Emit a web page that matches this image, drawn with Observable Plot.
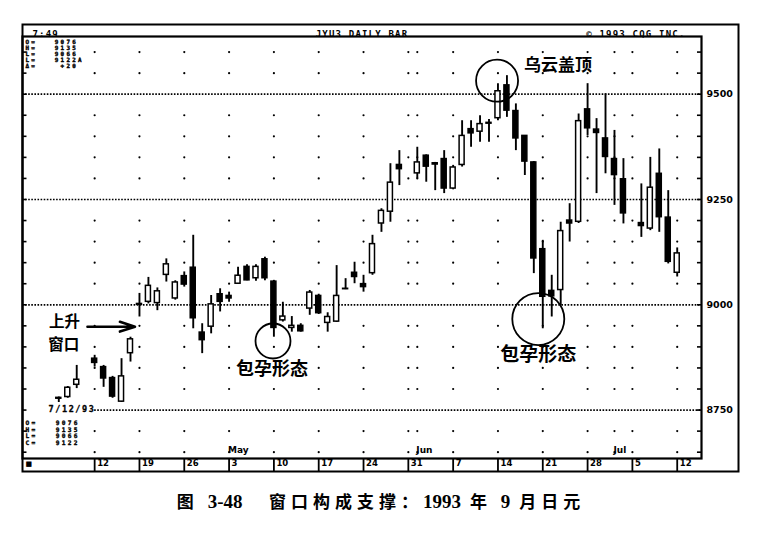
<!DOCTYPE html>
<html><head><meta charset="utf-8">
<script src="https://cdn.jsdelivr.net/npm/d3@7"></script>
<script src="https://cdn.jsdelivr.net/npm/@observablehq/plot@0.6"></script>
<style>
html,body{margin:0;padding:0;background:#fff;}
#chart{width:778px;height:480px;}
#cap{width:778px;margin-top:10px;text-align:center;font-family:"Noto Sans CJK SC";font-weight:700;font-size:17px;line-height:22px;letter-spacing:5px;color:#000;padding-right:16px;box-sizing:border-box;white-space:pre}
#cap .n{font-family:"Liberation Serif";font-size:19px;letter-spacing:0}
</style></head><body>
<div id="chart"></div>
<div id="cap">图 <span class="n">3-48</span>   窗口构成支撑：<span class="n">1993</span> 年 <span class="n">9</span> 月日元</div>
<script>
// ---- daily bars (JYU3, 1993) ----
const dates = ["1993-04-06","1993-04-07","1993-04-08","1993-04-12","1993-04-13","1993-04-14","1993-04-15","1993-04-16",
"1993-04-19","1993-04-20","1993-04-21","1993-04-22","1993-04-23","1993-04-26","1993-04-27","1993-04-28","1993-04-29","1993-04-30",
"1993-05-03","1993-05-04","1993-05-05","1993-05-06","1993-05-07","1993-05-10","1993-05-11","1993-05-12","1993-05-13","1993-05-14",
"1993-05-17","1993-05-18","1993-05-19","1993-05-20","1993-05-21","1993-05-24","1993-05-25","1993-05-26","1993-05-27","1993-05-28",
"1993-06-01","1993-06-02","1993-06-03","1993-06-04","1993-06-07","1993-06-08","1993-06-09","1993-06-10","1993-06-11",
"1993-06-14","1993-06-15","1993-06-16","1993-06-17","1993-06-18","1993-06-21","1993-06-22","1993-06-23","1993-06-24","1993-06-25",
"1993-06-28","1993-06-29","1993-06-30","1993-07-01","1993-07-02","1993-07-06","1993-07-07","1993-07-08","1993-07-09","1993-07-12"];
const opens  = [8779,8781,8810,8872,8852,8826,8770,8885, 9000,9007,9004,9071,9015,9068,9088,8934,8948,9025,
9021,9050,9090,9063,9108,9055,8963,8945,8950,8991, 9021,8957,8960,9037,9076,9049,9075,9193,9221,9332,
9312,9354,9336,9346,9276,9332,9417,9411,9430, 9443,9521,9460,9401,9338,9132,9033,9035,9200,9197,
9464,9416,9395,9346,9298,9194,9181,9311,9207,9076];
const highs  = [8781,8806,8856,8880,8856,8830,8872,8923, 9027,9065,9040,9109,9057,9078,9165,8955,9022,9038,
9030,9089,9095,9095,9113,9058,9006,8972,8955,9034, 9025,8981,9093,9062,9101,9070,9165,9228,9335,9366,
9374,9356,9338,9366,9331,9437,9437,9449,9440, 9525,9544,9477,9402,9340,9153,9070,9196,9240,9453,
9525,9442,9501,9414,9347,9287,9350,9370,9271,9135];
const lows   = [8768,8778,8801,8852,8804,8778,8768,8864, 8971,9002,8986,9054,9011,9042,8943,8884,8931,8983,
9006,9049,9057,9056,9057,8923,8959,8935,8935,8975, 8977,8935,8958,9036,9050,9030,9070,9172,9196,9283,
9299,9291,9271,9264,9273,9327,9374,9386,9386, 9437,9445,9366,9307,9074,8943,8971,8998,9149,9193,
9402,9264,9311,9236,9192,9160,9176,9172,9097,9066];
const closes = [8777,8803,8822,8862,8825,8782,8830,8918, 9002,9045,9032,9096,9053,9048,8968,8916,9001,9007,
9015,9069,9058,9090,9063,8945,8972,8950,8937,9029, 8980,8971,9021,9038,9066,9042,9144,9223,9290,9322,
9338,9328,9333,9276,9326,9401,9407,9429,9432, 9507,9461,9395,9340,9110,9019,9020,9175,9193,9436,
9419,9408,9351,9308,9217,9187,9278,9208,9102,9122];

// ---- axis / calendar labels ----
const weekDates  = ["1993-04-12","1993-04-19","1993-04-26","1993-05-03","1993-05-10","1993-05-17","1993-05-24","1993-05-31",
"1993-06-07","1993-06-14","1993-06-21","1993-06-28","1993-07-05","1993-07-12"];
const weekLabels = ["12","19","26","3","10","17","24","31","7","14","21","28","5","12"];
const monthDates  = ["1993-05-03","1993-06-01","1993-07-01"];
const monthLabels = ["May","Jun","Jul"];
const priceLabels = [8750, 9000, 9250, 9500];
const tickLevels = [8650,8700,8750,8800,8850,8900,8950,9000,9050,9100,9150,9200,9250,9300,9350,9400,9450,9500,9550,9600];

// ---- annotations ----
const noteTexts = ["乌云盖顶", "包孕形态", "包孕形态", "上升", "窗口"];
const noteX     = [55.7, 23.8, 53.5, 0.64, 0.55];
const noteY     = [9567, 8846, 8880, 8958, 8904];
const noteSize  = [17, 18, 19, 15.5, 15.5];
const circleX = [48.9, 23.9, 53.5];
const circleY = [9532, 8914, 8966];
const circleR = [21, 17.5, 26];
const arrowFromX = 3.2, arrowToX = 8.5, arrowY = 8948;

const headerLeft = "7:49", headerMid = "JYU3 DAILY BAR", headerRight = "© 1993 CQG INC.";
const infoTop = "O=   9076\nH=   9135\nL=   9066\nL=   9122A\nΔ=    +20";
const infoDate = "7/12/93";
const infoBottom = "O=   9076\nH=   9135\nL=   9066\nC=   9122";

// trading-day slot (weekday calendar, holidays left blank)
const d0 = Date.parse("1993-04-05T00:00:00Z");
function slot(s) {
  const days = Math.round((Date.parse(s + "T00:00:00Z") - d0) / 864e5);
  return Math.floor(days / 7) * 5 + Math.min(days % 7, 5) - 1;
}

const bars = dates.map((d, i) => ({slot: slot(d), open: opens[i], high: highs[i], low: lows[i], close: closes[i]}));
const weeks = weekDates.map((d, i) => ({slot: slot(d), label: weekLabels[i]}));
const months = monthDates.map((d, i) => ({slot: slot(d), label: monthLabels[i]}));
const gridCols = Array.from(new Set([...weekDates, ...monthDates].map(slot)));
const grid = gridCols.flatMap(x => tickLevels.filter(v => v % 250 !== 0).map(y => ({x, y})));
const notes = noteTexts.map((t, i) => ({text: t, x: noteX[i], y: noteY[i], size: noteSize[i]}));
const circles = circleX.map((x, i) => ({x, y: circleY[i], r: circleR[i]}));

const xDomain = [-4.05, 71.71];
const yDomain = [8635, 9637];
const mono = "DejaVu Sans Mono";
const cjk = "Noto Sans CJK SC";
// the lowest dotted level starts after the date stamp, at the first week column
const ruleStart = d => d === priceLabels[0] ? slot(weekDates[0]) : xDomain[0];

const chart = Plot.plot({
  width: 778, height: 480,
  marginLeft: 22, marginRight: 77, marginTop: 36, marginBottom: 22,
  x: {domain: xDomain, axis: null},
  y: {domain: yDomain, axis: null},
  style: {background: "white", color: "black", overflow: "visible"},
  marks: [
    Plot.dot(grid, {x: "x", y: "y", r: 1.1, fill: "black", stroke: null}),
    Plot.ruleY(priceLabels, {y: d => d, x1: ruleStart, x2: xDomain[1], stroke: "black", strokeWidth: 1.7, strokeDasharray: "1.6,1.5"}),
    Plot.ruleY(tickLevels, {y: d => d, x1: xDomain[1] - 0.45, x2: xDomain[1], stroke: "black", strokeWidth: 1.6}),
    Plot.ruleY(tickLevels, {y: d => d, x1: xDomain[0], x2: xDomain[0] + 0.5, stroke: "black", strokeWidth: 1.6}),
    // candles
    Plot.ruleX(bars, {x: "slot", y1: "low", y2: "high", stroke: "black", strokeWidth: 1.9}),
    Plot.rect(bars, {x1: d => d.slot - 0.28, x2: d => d.slot + 0.28, y1: "open", y2: "close",
      fill: d => d.close >= d.open ? "white" : "black", stroke: "black", strokeWidth: 1.5}),
    // annotations
    ...circles.map(c => Plot.dot([c], {x: "x", y: "y", r: c.r, stroke: "black", strokeWidth: 1.8, fill: "none"})),
    Plot.arrow([{x1: arrowFromX, x2: arrowToX, y: arrowY}], {x1: "x1", x2: "x2", y1: "y", y2: "y",
      stroke: "black", strokeWidth: 2.6, headLength: 13, headAngle: 36, bend: 0}),
    Plot.text(notes, {x: "x", y: "y", text: "text", fontSize: d => d.size, fontFamily: cjk, fontWeight: 700, fill: "black"}),
    // frames
    Plot.frame({stroke: "black", strokeWidth: 2.2}),
    Plot.frame({stroke: "black", strokeWidth: 2, insetTop: -12, insetRight: -37, insetBottom: -13}),
    // right price labels
    Plot.text(priceLabels, {y: d => d, text: d => String(d), frameAnchor: "right", textAnchor: "start", dx: 5,
      fontFamily: "DejaVu Sans", fontWeight: 700, fontSize: 9.5}),
    // date bar
    Plot.ruleX(weeks, {x: "slot", insetTop: 422, insetBottom: -13, stroke: "black", strokeWidth: 1.8}),
    Plot.text(weeks, {x: "slot", text: "label", frameAnchor: "bottom", dy: 7, dx: 2.5, textAnchor: "start",
      fontFamily: "DejaVu Sans", fontWeight: 700, fontSize: 8.5}),
    Plot.text(["■"], {frameAnchor: "bottom-left", dy: 7, dx: 3, textAnchor: "start", fontSize: 7, fontFamily: "DejaVu Sans"}),
    Plot.text(months, {x: "slot", text: "label", frameAnchor: "bottom", dy: -6, dx: -1, textAnchor: "start",
      fontFamily: "DejaVu Sans", fontWeight: 700, fontSize: 9, fill: "black"}),
    // header
    Plot.text([headerLeft], {frameAnchor: "top-left", dx: 10, dy: -6, textAnchor: "start", fontFamily: mono, fontWeight: 700, fontSize: 9, ariaDescription: "hdr"}),
    Plot.text([headerMid], {frameAnchor: "top", dy: -6, fontFamily: mono, fontWeight: 700, fontSize: 9, ariaDescription: "hdr"}),
    Plot.text([headerRight], {frameAnchor: "top-right", dx: -16, dy: -6, textAnchor: "end", fontFamily: mono, fontWeight: 700, fontSize: 9, ariaDescription: "hdr"}),
    // info blocks
    Plot.text([infoTop], {frameAnchor: "top-left", dx: 3, dy: 3, lineAnchor: "top", textAnchor: "start", lineHeight: 1.03,
      fontFamily: mono, fontWeight: 700, fontSize: 5.9, fill: "black", stroke: "black", strokeWidth: 0.4, ariaDescription: "info"}),
    Plot.text([infoDate], {frameAnchor: "bottom-left", dx: 26, dy: -47, textAnchor: "start", fontFamily: mono, fontWeight: 700,
      fontSize: 8.5, fill: "black", stroke: "black", strokeWidth: 0.3, ariaDescription: "date"}),
    Plot.text([infoBottom], {frameAnchor: "bottom-left", dx: 3, dy: -25.75, lineAnchor: "middle", textAnchor: "start", lineHeight: 1.05,
      fontFamily: mono, fontWeight: 700, fontSize: 6.2, fill: "black", stroke: "black", strokeWidth: 0.35, ariaDescription: "info"})
  ]
});
document.getElementById("chart").appendChild(chart);
d3.select(chart).selectAll('g[aria-description="hdr"] text').attr("letter-spacing", "1.2");
d3.select(chart).selectAll('g[aria-description="info"] text, g[aria-description="info"] tspan').attr("letter-spacing", "2.3");
d3.select(chart).selectAll('g[aria-description="date"] text').attr("letter-spacing", "1.6");
</script>
</body></html>
